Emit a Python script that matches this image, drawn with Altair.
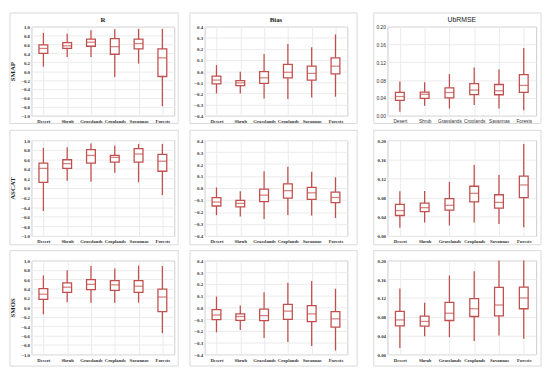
import altair as alt
import pandas as pd

cats = ["Desert", "Shrub", "Grasslands", "Croplands", "Savannas", "Forests"]
products = ["SMAP", "ASCAT", "SMOS"]
metrics = ["R", "Bias", "UbRMSE"]

# box statistics per land cover (lo whisker, q1, median, q3, hi whisker)
smap_r = dict(lo=[0.10, 0.32, 0.32, -0.13, 0.17, -0.79],
              q1=[0.40, 0.51, 0.56, 0.38, 0.50, -0.12],
              med=[0.51, 0.57, 0.65, 0.55, 0.62, 0.30],
              q3=[0.59, 0.64, 0.72, 0.73, 0.72, 0.50],
              hi=[0.86, 0.84, 0.92, 0.94, 0.95, 0.95])
smap_bias = dict(lo=[-0.20, -0.20, -0.245, -0.25, -0.237, -0.23],
                 q1=[-0.115, -0.13, -0.11, -0.06, -0.08, -0.025],
                 med=[-0.08, -0.105, -0.06, -0.01, -0.02, 0.045],
                 q3=[-0.045, -0.085, -0.005, 0.06, 0.045, 0.12],
                 hi=[0.055, -0.005, 0.155, 0.245, 0.215, 0.33])
smap_ubrmse = dict(lo=[0.009, 0.022, 0.016, 0.024, 0.016, 0.012],
                   q1=[0.0345, 0.039, 0.040, 0.0475, 0.047, 0.0525],
                   med=[0.043, 0.048, 0.052, 0.0575, 0.056, 0.068],
                   q3=[0.0525, 0.053, 0.0626, 0.072, 0.070, 0.092],
                   hi=[0.077, 0.075, 0.0935, 0.108, 0.104, 0.152])
ascat_r = dict(lo=[-0.48, 0.15, 0.13, 0.32, 0.12, -0.15],
               q1=[0.12, 0.41, 0.52, 0.54, 0.54, 0.35],
               med=[0.41, 0.51, 0.68, 0.64, 0.71, 0.56],
               q3=[0.52, 0.59, 0.80, 0.68, 0.82, 0.70],
               hi=[0.84, 0.85, 0.93, 0.89, 0.92, 0.92])
ascat_bias = dict(lo=[-0.226, -0.237, -0.258, -0.226, -0.23, -0.25],
                  q1=[-0.15, -0.158, -0.114, -0.084, -0.095, -0.122],
                  med=[-0.117, -0.128, -0.06, -0.022, -0.04, -0.079],
                  q3=[-0.08, -0.103, -0.01, 0.035, 0.005, -0.035],
                  hi=[0.005, -0.027, 0.14, 0.177, 0.136, 0.09])
ascat_ubrmse = dict(lo=[0.017, 0.028, 0.022, 0.028, 0.025, 0.018],
                    q1=[0.0427, 0.051, 0.054, 0.0712, 0.058, 0.080],
                    med=[0.053, 0.059, 0.064, 0.089, 0.070, 0.1064],
                    q3=[0.0658, 0.0685, 0.078, 0.1037, 0.086, 0.125],
                    hi=[0.0935, 0.094, 0.113, 0.148, 0.127, 0.192])
smos_r = dict(lo=[-0.15, 0.11, 0.10, 0.10, 0.10, -0.55],
              q1=[0.17, 0.32, 0.38, 0.36, 0.32, -0.09],
              med=[0.28, 0.43, 0.49, 0.48, 0.45, 0.22],
              q3=[0.40, 0.52, 0.59, 0.57, 0.57, 0.39],
              hi=[0.68, 0.79, 0.88, 0.83, 0.89, 0.88])
smos_bias = dict(lo=[-0.213, -0.194, -0.262, -0.295, -0.33, -0.368],
                 q1=[-0.105, -0.111, -0.114, -0.103, -0.122, -0.169],
                 med=[-0.065, -0.078, -0.07, -0.032, -0.056, -0.098],
                 q3=[-0.02, -0.056, -0.015, 0.026, 0.015, -0.037],
                 hi=[0.092, 0.015, 0.128, 0.21, 0.224, 0.158])
smos_ubrmse = dict(lo=[0.0136, 0.0386, 0.0366, 0.0285, 0.040, 0.033],
                   q1=[0.0603, 0.060, 0.072, 0.0805, 0.082, 0.097],
                   med=[0.0732, 0.070, 0.0875, 0.097, 0.105, 0.120],
                   q3=[0.0915, 0.0813, 0.1105, 0.1186, 0.1424, 0.143],
                   hi=[0.140, 0.110, 0.168, 0.177, 0.200, 0.200])

r_ticks = [-1.0, -0.8, -0.6, -0.4, -0.2, 0.0, 0.2, 0.4, 0.6, 0.8, 1.0]
bias_ticks = [-0.4, -0.3, -0.2, -0.1, 0.0, 0.1, 0.2, 0.3, 0.4]
ubrmse_ticks = [0.0, 0.04, 0.08, 0.12, 0.16, 0.20]

grid = [[smap_r, smap_bias, smap_ubrmse],
        [ascat_r, ascat_bias, ascat_ubrmse],
        [smos_r, smos_bias, smos_ubrmse]]
domains = [[-1, 1], [-0.4, 0.4], [0, 0.2]]
ticks = [r_ticks, bias_ticks, ubrmse_ticks]
formats = [".1f", ".1f", ".2f"]
widths = [146, 146, 152]
heights = [91, 98, 96]
extents = [13, 14, 19]
# card frame margins around each plot area (left, right) and (top, bottom)
frame_x = [(-22, 4), (-15, 10), (-14, 5)]
frame_y = [(-14, 8), (-10, 9), (-10, 12)]

RED = "#c0504d"
SERIF = "Liberation Serif"
SANS = "Liberation Sans"


def panel(stats, r, c):
    df = pd.DataFrame({"cat": cats, **stats})
    w, h = widths[c], heights[r]
    sans = (r == 0 and c == 2)
    font = SANS if sans else SERIF
    weight = "normal" if sans else "bold"
    x = alt.X("cat:N", sort=cats, title=None,
              scale=alt.Scale(type="point", padding=0.5),
              axis=alt.Axis(labelAngle=0, labelFont=font, labelFontWeight=weight,
                            labelFontSize=4.8, labelColor="#333", labelPadding=3,
                            labelOverlap=False, ticks=False, domain=False, grid=True,
                            gridColor="#ebebeb", minExtent=9, maxExtent=9))
    yax = alt.Axis(values=ticks[c], tickCount=len(ticks[c]), format=formats[c],
                   labelFont=font, labelFontWeight=weight, labelFontSize=5,
                   labelColor="#333", labelPadding=2, labelOverlap=False,
                   ticks=False, domain=False, grid=True, gridColor="#ebebeb",
                   minExtent=extents[c], maxExtent=extents[c],
                   titleFont=SERIF, titleFontSize=7, titleFontWeight="bold",
                   titleColor="#222", titlePadding=3)
    ysc = alt.Scale(domain=domains[c], nice=False, zero=False)
    base = alt.Chart(df).encode(x=x)
    y = alt.Y("lo:Q", scale=ysc, axis=yax, title=products[r] if c == 0 else "")
    one = pd.DataFrame({"f": [0]})
    frame = alt.Chart(one).mark_rect(
        fill="white", fillOpacity=0, stroke="#d9d9d9", strokeWidth=1).encode(
        x=alt.value(frame_x[c][0]), x2=alt.value(w + frame_x[c][1]),
        y=alt.value(frame_y[r][0]), y2=alt.value(h + frame_y[r][1]))
    whisk = base.mark_rule(color=RED, strokeWidth=1.3).encode(y=y, y2="hi:Q")
    box = base.mark_bar(size=9, fill="white", stroke=RED, strokeWidth=1.3).encode(
        y=alt.Y("q1:Q"), y2="q3:Q")
    med = base.mark_tick(color=RED, size=9, thickness=1.3).encode(y=alt.Y("med:Q"))
    layers = [frame, whisk, box, med]
    if r == 0:
        title = alt.Chart(one).mark_text(
            text=metrics[c], font=SANS if c == 2 else SERIF,
            fontWeight="normal" if c == 2 else "bold", fontSize=7, color="#222",
            baseline="middle", align="center").encode(
            x=alt.value(w / 2), y=alt.value(-7))
        layers.append(title)
    ch = alt.layer(*layers).properties(width=w, height=h)
    return ch


rows = []
for r in range(3):
    rows.append(alt.hconcat(*[panel(grid[r][c], r, c) for c in range(3)], spacing=10))

chart = alt.vconcat(*rows, spacing=4).properties(padding=0).configure_view(
    stroke="#cccccc", strokeWidth=1)

chart.save("out.html", embed_options={"renderer": "svg", "actions": False})
